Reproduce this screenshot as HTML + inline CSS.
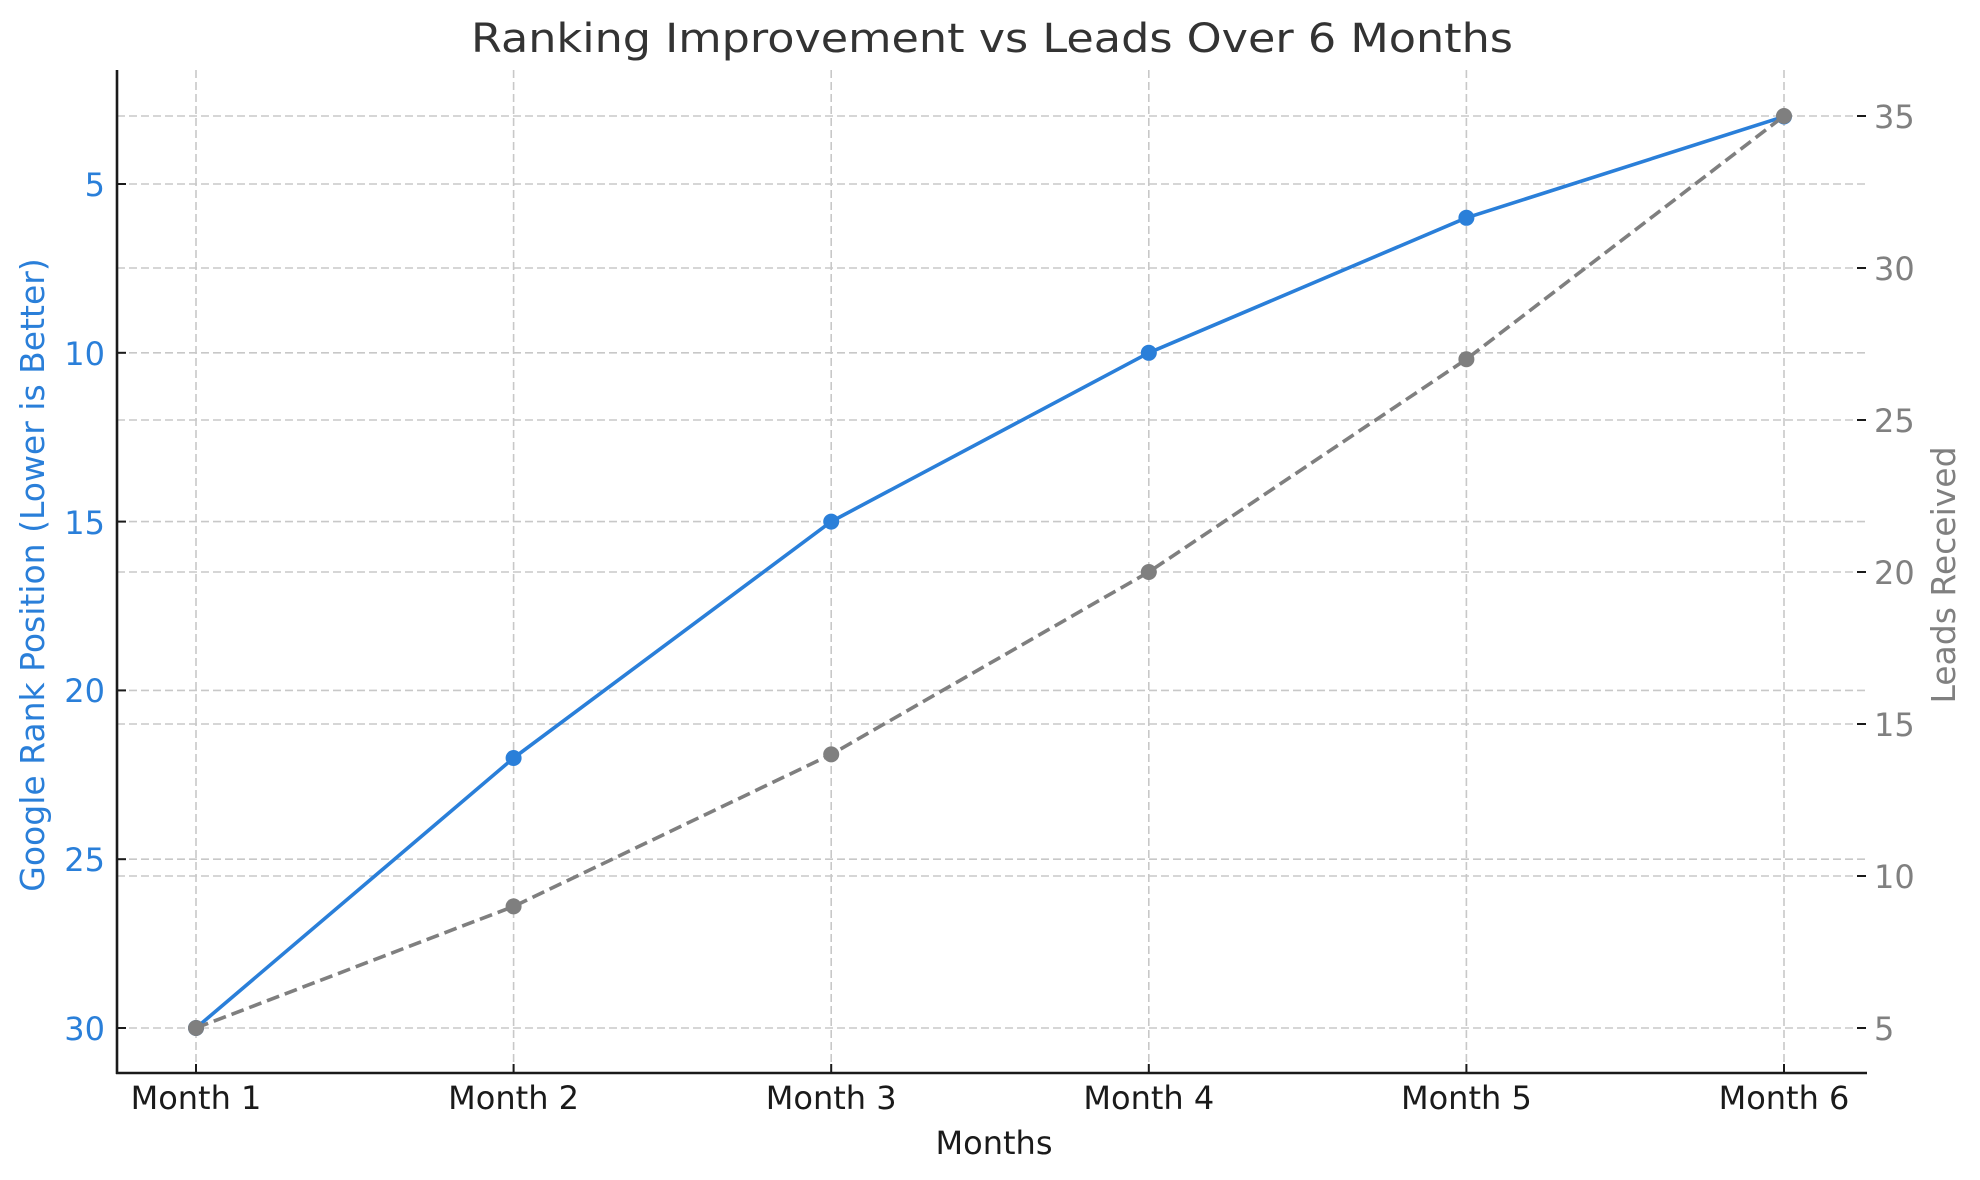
<!DOCTYPE html>
<html><head><meta charset="utf-8"><style>
html,body{margin:0;padding:0;background:#fff;}
svg{display:block;font-family:"DejaVu Sans","Liberation Sans",sans-serif;}
</style></head><body>
<svg width="1980" height="1180" viewBox="0 0 1980 1180" xmlns="http://www.w3.org/2000/svg">
<rect width="1980" height="1180" fill="#fff"/>
<g stroke="#c8c8c8" stroke-width="1.6" stroke-dasharray="8,4" fill="none">
  <line x1="196" y1="70" x2="196" y2="1073"/>
  <line x1="513.6" y1="70" x2="513.6" y2="1073"/>
  <line x1="831.2" y1="70" x2="831.2" y2="1073"/>
  <line x1="1148.8" y1="70" x2="1148.8" y2="1073"/>
  <line x1="1466.4" y1="70" x2="1466.4" y2="1073"/>
  <line x1="1784" y1="70" x2="1784" y2="1073"/>
  <line x1="117" y1="184" x2="1866" y2="184"/>
  <line x1="117" y1="352.8" x2="1866" y2="352.8"/>
  <line x1="117" y1="521.6" x2="1866" y2="521.6"/>
  <line x1="117" y1="690.4" x2="1866" y2="690.4"/>
  <line x1="117" y1="859.2" x2="1866" y2="859.2"/>
  <line x1="117" y1="1028" x2="1866" y2="1028"/>
  <line x1="117" y1="116" x2="1866" y2="116"/>
  <line x1="117" y1="268" x2="1866" y2="268"/>
  <line x1="117" y1="420" x2="1866" y2="420"/>
  <line x1="117" y1="572" x2="1866" y2="572"/>
  <line x1="117" y1="724" x2="1866" y2="724"/>
  <line x1="117" y1="876" x2="1866" y2="876"/>
</g>
<polyline fill="none" stroke="#2a7fd9" stroke-width="3.6" stroke-linejoin="round"
  points="196,1028 513.6,758 831.2,521.6 1148.8,352.8 1466.4,217.8 1784,116.5"/>
<g fill="#2a7fd9">
  <circle cx="196" cy="1028" r="8"/><circle cx="513.6" cy="758" r="8"/>
  <circle cx="831.2" cy="521.6" r="8"/><circle cx="1148.8" cy="352.8" r="8"/>
  <circle cx="1466.4" cy="217.8" r="8"/><circle cx="1784" cy="116.5" r="8"/>
</g>
<polyline fill="none" stroke="#7f7f7f" stroke-width="3.6" stroke-dasharray="13,6"
  points="196,1028 513.6,906.4 831.2,754.4 1148.8,572 1466.4,359.2 1784,116"/>
<g fill="#7f7f7f">
  <circle cx="196" cy="1028" r="8"/><circle cx="513.6" cy="906.4" r="8"/>
  <circle cx="831.2" cy="754.4" r="8"/><circle cx="1148.8" cy="572" r="8"/>
  <circle cx="1466.4" cy="359.2" r="8"/><circle cx="1784" cy="116" r="8"/>
</g>
<g stroke="#1a1a1a" stroke-width="2.6" fill="none">
  <line x1="117" y1="70" x2="117" y2="1074"/>
  <line x1="116" y1="1073" x2="1867" y2="1073"/>
</g>
<g stroke="#1a1a1a" stroke-width="2" fill="none">
  <line x1="117" y1="184" x2="126" y2="184"/><line x1="117" y1="352.8" x2="126" y2="352.8"/>
  <line x1="117" y1="521.6" x2="126" y2="521.6"/><line x1="117" y1="690.4" x2="126" y2="690.4"/>
  <line x1="117" y1="859.2" x2="126" y2="859.2"/><line x1="117" y1="1028" x2="126" y2="1028"/>
  <line x1="196" y1="1073" x2="196" y2="1064"/><line x1="513.6" y1="1073" x2="513.6" y2="1064"/>
  <line x1="831.2" y1="1073" x2="831.2" y2="1064"/><line x1="1148.8" y1="1073" x2="1148.8" y2="1064"/>
  <line x1="1466.4" y1="1073" x2="1466.4" y2="1064"/><line x1="1784" y1="1073" x2="1784" y2="1064"/>
  <line x1="1857" y1="116" x2="1866" y2="116"/><line x1="1857" y1="268" x2="1866" y2="268"/>
  <line x1="1857" y1="420" x2="1866" y2="420"/><line x1="1857" y1="572" x2="1866" y2="572"/>
  <line x1="1857" y1="724" x2="1866" y2="724"/><line x1="1857" y1="876" x2="1866" y2="876"/>
  <line x1="1857" y1="1028" x2="1866" y2="1028"/>
</g>
<g fill="#2a7fd9" font-size="32" text-anchor="end">
  <text x="105" y="196">5</text><text x="105" y="365">10</text><text x="105" y="534">15</text>
  <text x="105" y="702">20</text><text x="105" y="871">25</text><text x="105" y="1040">30</text>
</g>
<g fill="#808080" font-size="32" text-anchor="start">
  <text x="1874" y="128">35</text><text x="1874" y="280">30</text><text x="1874" y="432">25</text>
  <text x="1874" y="584">20</text><text x="1874" y="736">15</text><text x="1874" y="888">10</text>
  <text x="1874" y="1040">5</text>
</g>
<g fill="#1a1a1a" font-size="32" text-anchor="middle">
  <text x="196" y="1109">Month 1</text><text x="513.6" y="1109">Month 2</text>
  <text x="831.2" y="1109">Month 3</text><text x="1148.8" y="1109">Month 4</text>
  <text x="1466.4" y="1109">Month 5</text><text x="1784" y="1109">Month 6</text>
</g>
<text x="994" y="1154" font-size="32" fill="#1a1a1a" text-anchor="middle">Months</text>
<text transform="translate(44,575) rotate(-90)" font-size="33" fill="#2a7fd9" text-anchor="middle">Google Rank Position (Lower is Better)</text>
<text transform="translate(1955,575) rotate(-90)" font-size="33" fill="#808080" text-anchor="middle">Leads Received</text>
<text x="992" y="52" font-size="40" fill="#333" text-anchor="middle" textLength="1042" lengthAdjust="spacingAndGlyphs">Ranking Improvement vs Leads Over 6 Months</text>
</svg>
</body></html>
